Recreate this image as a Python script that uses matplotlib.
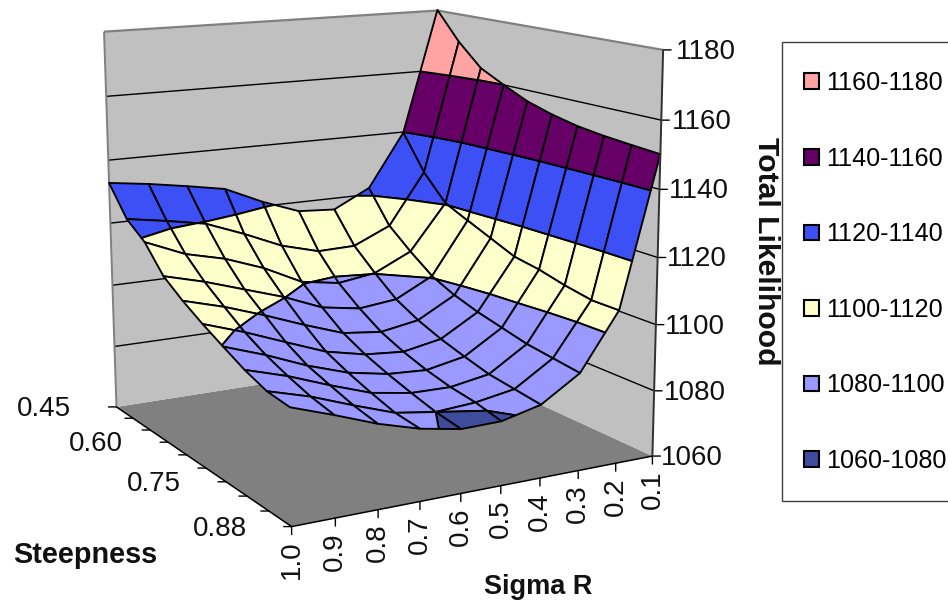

import numpy as np, matplotlib
matplotlib.use('Agg')
import matplotlib.pyplot as plt
from matplotlib.patches import Patch, Rectangle
from mpl_toolkits.mplot3d.art3d import Poly3DCollection
from mpl_toolkits.mplot3d import proj3d

sigma_labels = ['1.0','0.9','0.8','0.7','0.6','0.5','0.4','0.3','0.2','0.1']
steepness_labels = ['0.45','','','0.60','','','0.75','','','0.88']
z_ticks = [1060,1080,1100,1120,1140,1160,1180]
band_labels = ['1160-1180','1140-1160','1120-1140','1100-1120','1080-1100','1060-1080']
band_colors = ['#FFA3A3','#660066','#3C50F5','#FFFFCC','#9999FF','#3F4C9E']
# rows: steepness low -> high; columns: Sigma R 1.0 -> 0.1
likelihood = np.array([
[1132.8,1131.2,1129.2,1127.0,1121.5,1117.0,1116.2,1122.2,1139.8,1180.2],
[1123.8,1121.8,1119.5,1114.8,1109.5,1106.2,1106.5,1111.8,1128.5,1171.0],
[1119.2,1114.0,1111.0,1106.5,1100.5,1098.5,1100.2,1105.8,1120.5,1163.8],
[1111.5,1108.2,1104.2,1100.2,1095.2,1093.2,1094.5,1100.5,1117.2,1160.0],
[1107.0,1103.5,1099.2,1094.5,1090.2,1088.8,1090.8,1097.2,1114.0,1156.5],
[1103.2,1099.0,1094.2,1089.5,1086.8,1085.8,1088.0,1094.8,1110.8,1154.2],
[1099.8,1095.5,1090.5,1086.5,1084.2,1083.5,1085.8,1093.0,1109.5,1152.5],
[1096.5,1092.8,1088.2,1084.0,1082.0,1081.8,1083.8,1091.2,1107.5,1151.5],
[1094.0,1090.5,1086.0,1081.8,1080.0,1080.8,1082.8,1090.2,1106.0,1150.8],
[1093.2,1089.0,1084.5,1081.0,1078.8,1079.0,1081.8,1089.2,1106.0,1150.2]])

W,H=948,602
INK='#111111'
plt.rcParams['font.family']=['Liberation Sans','DejaVu Sans']
fig=plt.figure(figsize=(W/100,H/100),dpi=100,facecolor='white')
S=677.51
ax=fig.add_axes([24.79/W,14.50/H,S/W,S/H],projection='3d',computed_zorder=False)
ax.patch.set_alpha(0)
ax.set_xlim(0,9);ax.set_ylim(0,9);ax.set_zlim(1060,1180)
ax.view_init(elev=12.4103,azim=61.1129,roll=0.2656)
ax.set_proj_type('persp',focal_length=0.5528)
ax.set_box_aspect((1,1.0466,1.0096))
ax.set_axis_off()
def add_poly(v,fc,ec,lw,zo):
    c=Poly3DCollection(v,facecolors=fc,edgecolors=ec,linewidths=lw,zorder=zo,clip_on=False)
    ax.add_collection3d(c,autolim=False)
    return c
zlo,zhi=1060,1180
add_poly([[(0,0,zlo),(9,0,zlo),(9,9,zlo),(0,9,zlo)]],'#808080','none',0,1)
add_poly([[(0,0,zlo),(9,0,zlo),(9,0,zhi),(0,0,zhi)],[(0,0,zlo),(0,9,zlo),(0,9,zhi),(0,0,zhi)]],'#C0C0C0','none',0,1)
def line(xs,ys,zs,c='k',lw=1.0,zo=2):
    ax.plot(xs,ys,zs,color=c,lw=lw,zorder=zo,clip_on=False,solid_capstyle='butt')
for z in z_ticks[1:-1]:
    line([9,0,0],[0,0,9],[z,z,z],lw=1.0)
line([9,0,0],[0,0,9],[zhi]*3,c='#808080',lw=1.6)
line([9,9],[0,0],[zlo,zhi],c='#808080',lw=1.4)
line([9,9,0],[0,9,9],[zlo]*3,c='k',lw=1.1,zo=2)
# surface split into level bands
levels=np.arange(1060,1181,20)
def clip(poly,lev,keep_above):
    out=[];n=len(poly)
    for i in range(n):
        a,b=poly[i],poly[(i+1)%n]
        ina=(a[2]>=lev) if keep_above else (a[2]<=lev)
        inb=(b[2]>=lev) if keep_above else (b[2]<=lev)
        if ina: out.append(a)
        if ina!=inb:
            f=(lev-a[2])/(b[2]-a[2])
            out.append((a[0]+f*(b[0]-a[0]),a[1]+f*(b[1]-a[1]),lev))
    return out
polys=[];cols=[]
colors_low=band_colors[::-1]
for t in range(9):
    for i in range(9):
        q=[(9-i,t,likelihood[t,i]),(8-i,t,likelihood[t,i+1]),(8-i,t+1,likelihood[t+1,i+1]),(9-i,t+1,likelihood[t+1,i])]
        for b in range(6):
            lo,hi=levels[b],levels[b+1]+(5 if b==5 else 0)
            p=clip(q,lo,True)
            if len(p)>=3: p=clip(p,hi,False)
            if len(p)>=3:
                polys.append(p);cols.append(colors_low[b])
add_poly(polys,cols,'k',1.35,3)
def P(x,y,z):
    u,v,_=proj3d.proj_transform(x,y,z,ax.get_proj())
    return (u,v)
def tick(xy,dx,dy):
    ax.annotate('',xy=xy,xytext=(dx,dy),textcoords='offset pixels',annotation_clip=False,
                arrowprops=dict(arrowstyle='-',color='k',lw=1.0,shrinkA=0,shrinkB=0))
def label(s,xy,dx,dy,**kw):
    ax.annotate(s,xy,xytext=(dx,dy),textcoords='offset pixels',fontsize=tick_fs,annotation_clip=False,color=INK,**kw)
tick_fs=20
# Total Likelihood axis
line([0,0],[9,9],[zlo,zhi],c='#303030',lw=1.4,zo=4)
z_dx=[8,10,9,9,9,11,13]
for z,dx in zip(z_ticks,z_dx):
    xy=P(0,9,z)
    tick(xy,8,0)
    label(str(z),xy,dx,-2,ha='left',va='center')
# Steepness axis
for t,l in enumerate(steepness_labels):
    xy=P(9,t,zlo)
    tick(xy,-8,0)
    if l: label(l,xy,-45,-2,ha='right',va='center')
# Sigma axis
for i,l in enumerate(sigma_labels):
    xy=P(9-i,9,zlo)
    tick(xy,0,-8)
    label(l,xy,0,-14,ha='center',va='top',rotation=90)
fig.text(13/W,1-555/H,'Steepness',fontsize=20.8,fontweight='bold',ha='left',va='center',color=INK)
fig.text(538/W,1-587/H,'Sigma R',fontsize=19.5,fontweight='bold',ha='center',va='center',color=INK)
fig.text(766/W,1-251/H,'Total Likelihood',fontsize=21.7,fontweight='bold',rotation=270,ha='center',va='center',color=INK)
fig.add_artist(Rectangle((781.5/W,1-500.5/H),200/W,458.5/H,transform=fig.transFigure,facecolor='white',edgecolor='#404040',linewidth=1.0,zorder=0.5))
h=[Patch(facecolor=c,edgecolor='k',linewidth=1.5) for c in band_colors]
leg=fig.legend(h,band_labels,loc='upper left',bbox_to_anchor=(781/W,1-48/H),borderaxespad=0,fontsize=18.1,handlelength=0.58,handleheight=0.58,handletextpad=0.3,labelspacing=2.05,borderpad=0.92,frameon=False)
fig.savefig('out.png',dpi=100)
